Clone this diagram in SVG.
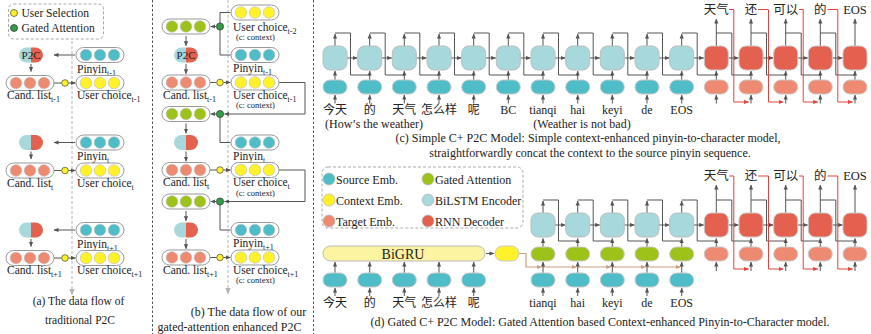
<svg xmlns="http://www.w3.org/2000/svg" width="871" height="334" viewBox="0 0 871 334" font-family="'Liberation Serif','DejaVu Serif','Noto Sans CJK SC',serif">
<defs>
<style>
text{font-family:"Liberation Serif","DejaVu Serif","Noto Sans CJK SC",serif;fill:#222}
.lb{font-size:11.5px}
.sb{font-size:8px}
.cx{font-size:8.5px}
.capa{font-size:11.5px;text-anchor:middle}
.cap{font-size:12px;text-anchor:middle}
.tok{font-size:12px;text-anchor:middle}
.wd{font-size:12.5px;text-anchor:middle}
.lgt{font-size:12px}
.ln{stroke:#555;stroke-width:1;fill:none}
.a{marker-end:url(#ah)}
.rd{stroke:#e2423c;stroke-width:1;fill:none;marker-end:url(#ahr)}
.tn{stroke:#c9a07f;stroke-width:1.2;fill:none;marker-end:url(#aht)}
.box{fill:#fff;stroke:#999;stroke-width:1}
.ct{fill:#4fbdc7;stroke:#bbb;stroke-width:.6}
.cy{fill:#fff22a;stroke:#bbb;stroke-width:.6}
.cs{fill:#ef8a72;stroke:#bbb;stroke-width:.6}
.cg{fill:#9dc31b;stroke:#bbb;stroke-width:.6}
.enc{fill:#a6d8dc;stroke:#bdbdbd;stroke-width:1}
.dec{fill:#e4604f;stroke:#c8c8c8;stroke-width:1}
.src{fill:#4fbdc7;stroke:#c8c8c8;stroke-width:1}
.tgt{fill:#ef8a72;stroke:#c8c8c8;stroke-width:1}
.gat{fill:#9dc31b;stroke:#c8c8c8;stroke-width:1}
.ylw{fill:#fff22a;stroke:#c8c8c8;stroke-width:1}
.gru{fill:#fdf4a2;stroke:#bbb;stroke-width:1}
.pl{fill:#a6d8dc}
.pr{fill:#e4604f}
.ud{fill:#fff22a;stroke:#444;stroke-width:.7}
.gd{fill:#2f9e47;stroke:#333;stroke-width:.7}
.div{stroke:#555;stroke-width:1;stroke-dasharray:2.5 2;fill:none}
.fl{stroke:#b5b5b5;stroke-width:1;stroke-dasharray:3 2;fill:none;marker-end:url(#ahg)}
.lg{fill:none;stroke:#aaa;stroke-width:1;stroke-dasharray:3 2}
.ld{stroke:#bbb;stroke-width:.8}
</style>
<marker id="ah" viewBox="0 0 6 6" refX="5.5" refY="3" markerWidth="5" markerHeight="5" orient="auto" markerUnits="userSpaceOnUse"><path d="M0,0.5L6,3L0,5.5z" fill="#555"/></marker>
<marker id="ahr" viewBox="0 0 6 6" refX="5.5" refY="3" markerWidth="5" markerHeight="5" orient="auto" markerUnits="userSpaceOnUse"><path d="M0,0.5L6,3L0,5.5z" fill="#e2423c"/></marker>
<marker id="aht" viewBox="0 0 6 6" refX="5.5" refY="3" markerWidth="5" markerHeight="5" orient="auto" markerUnits="userSpaceOnUse"><path d="M0,0.5L6,3L0,5.5z" fill="#c9a07f"/></marker>
<marker id="ahg" viewBox="0 0 6 6" refX="5.5" refY="3" markerWidth="7" markerHeight="7" orient="auto" markerUnits="userSpaceOnUse"><path d="M0,0.5L6,3L0,5.5z" fill="#b5b5b5"/></marker>
<g id="p2c"><path class="pl" d="M0 -7.5H-4.5A7.5 7.5 0 0 0 -4.5 7.5H0Z"/><path class="pr" d="M0 -7.5H4.5A7.5 7.5 0 0 1 4.5 7.5H0Z"/></g>
<g id="bt"><rect class="box" x="-24" y="-7.5" width="48" height="15" rx="7.5"/><circle class="ct" cx="-14" cy="0" r="5.8"/><circle class="ct" cx="0" cy="0" r="5.8"/><circle class="ct" cx="14" cy="0" r="5.8"/></g>
<g id="by"><rect class="box" x="-24" y="-7.5" width="48" height="15" rx="7.5"/><circle class="cy" cx="-14" cy="0" r="5.8"/><circle class="cy" cx="0" cy="0" r="5.8"/><circle class="cy" cx="14" cy="0" r="5.8"/></g>
<g id="bs"><rect class="box" x="-24" y="-7.5" width="48" height="15" rx="7.5"/><circle class="cs" cx="-14" cy="0" r="5.8"/><circle class="cs" cx="0" cy="0" r="5.8"/><circle class="cs" cx="14" cy="0" r="5.8"/></g>
<g id="bg"><rect class="box" x="-24" y="-7.5" width="48" height="15" rx="7.5"/><circle class="cg" cx="-14" cy="0" r="5.8"/><circle class="cg" cx="0" cy="0" r="5.8"/><circle class="cg" cx="14" cy="0" r="5.8"/></g>
</defs>

<g id="connectors">
<path class="div" d="M152.5 0V334M313.5 0V334"/>
<path class="fl" d="M72 41V295"/>
<path class="fl" d="M228 0V294"/>
<path class="ln a" d="M75 55H54"/><path class="ln a" d="M31 64V71.5"/><path class="ln" d="M54 83H61.5"/><path class="ln a" d="M68.5 83H75.5"/>
<path class="ln a" d="M75 142.5H54"/><path class="ln a" d="M31 151.5V159"/><path class="ln" d="M54 170.5H61.5"/><path class="ln a" d="M68.5 170.5H75.5"/>
<path class="ln a" d="M75 230H54"/><path class="ln a" d="M31 239V246.5"/><path class="ln" d="M54 258H61.5"/><path class="ln a" d="M68.5 258H75.5"/>
<path class="ln a" d="M216 26.5H210.8"/><path class="ln" d="M220 26.5V12.5H230.5"/><path class="ln" d="M220 26.5V55H230.5"/>
<path class="ln a" d="M186 36V45.8"/><path class="ln a" d="M186 64V73.8"/><path class="ln" d="M210 82.5H216.5"/><path class="ln a" d="M223.5 82.5H230.5"/>
<path class="ln a" d="M279 82.5H305V114H224.5"/><path class="ln a" d="M216 114H210.8"/><path class="ln" d="M220 114V142.5H230.5"/>
<path class="ln a" d="M186 123.5V133.3"/><path class="ln a" d="M186 151.5V161.3"/><path class="ln" d="M210 170H216.5"/><path class="ln a" d="M223.5 170H230.5"/>
<path class="ln a" d="M279 170H305V201.5H224.5"/><path class="ln a" d="M216 201.5H210.8"/><path class="ln" d="M220 201.5V230H230.5"/>
<path class="ln a" d="M186 211V220.8"/><path class="ln a" d="M186 239V248.8"/><path class="ln" d="M210 257.5H216.5"/><path class="ln a" d="M223.5 257.5H230.5"/>
<path class="ln a" d="M347 58H357.2"/><path class="ln a" d="M381.7 58H391.8"/><path class="ln a" d="M416.3 58H426.5"/><path class="ln a" d="M451 58H461.2"/><path class="ln a" d="M485.7 58H495.8"/><path class="ln a" d="M520.3 58H530.5"/><path class="ln a" d="M555 58H565.2"/><path class="ln a" d="M589.7 58H599.8"/><path class="ln a" d="M624.3 58H634.5"/><path class="ln a" d="M659 58H669.2"/><path class="ln a" d="M693.7 58H703.8"/><path class="ln a" d="M728.3 58H738.5"/><path class="ln a" d="M763 58H773.2"/><path class="ln a" d="M797.7 58H807.8"/><path class="ln a" d="M832.3 58H842.5"/>
<path class="ln" d="M335 33H350.5V75H369.7M369.7 33H385.2V75H404.3M404.3 33H419.8V75H439M439 33H454.5V75H473.7M473.7 33H489.2V75H508.3M508.3 33H523.8V75H543M543 33H558.5V75H577.7M577.7 33H593.2V75H612.3M612.3 33H627.8V75H647M647 33H662.5V75H681.7M681.7 33H697.2V75H716.3M716.3 33H731.8V75H751M751 33H766.5V75H785.7M785.7 33H801.2V75H820.3M820.3 33H835.8V75H855"/>
<path class="ln a" d="M335 46V34"/><path class="ln a" d="M369.7 46V34"/><path class="ln a" d="M404.3 46V34"/><path class="ln a" d="M439 46V34"/><path class="ln a" d="M473.7 46V34"/><path class="ln a" d="M508.3 46V34"/><path class="ln a" d="M543 46V34"/><path class="ln a" d="M577.7 46V34"/><path class="ln a" d="M612.3 46V34"/><path class="ln a" d="M647 46V34"/><path class="ln a" d="M681.7 46V34"/>
<path class="ln a" d="M716.3 46V19"/><path class="ln a" d="M751 46V19"/><path class="ln a" d="M785.7 46V19"/><path class="ln a" d="M820.3 46V19"/><path class="ln a" d="M855 46V19"/>
<path class="ln a" d="M335 80V71"/><path class="ln a" d="M369.7 80V71"/><path class="ln a" d="M404.3 80V71"/><path class="ln a" d="M439 80V71"/><path class="ln a" d="M473.7 80V71"/><path class="ln a" d="M508.3 80V71"/><path class="ln a" d="M543 80V71"/><path class="ln a" d="M577.7 80V71"/><path class="ln a" d="M612.3 80V71"/><path class="ln a" d="M647 80V71"/><path class="ln a" d="M681.7 80V71"/><path class="ln a" d="M716.3 80V71"/><path class="ln a" d="M751 80V71"/><path class="ln a" d="M785.7 80V71"/><path class="ln a" d="M820.3 80V71"/><path class="ln a" d="M855 80V71"/>
<path class="ln a" d="M335 103.5V95"/><path class="ln a" d="M369.7 103.5V95"/><path class="ln a" d="M404.3 103.5V95"/><path class="ln a" d="M439 103.5V95"/><path class="ln a" d="M473.7 103.5V95"/><path class="ln a" d="M508.3 103.5V95"/><path class="ln a" d="M543 103.5V95"/><path class="ln a" d="M577.7 103.5V95"/><path class="ln a" d="M612.3 103.5V95"/><path class="ln a" d="M647 103.5V95"/><path class="ln a" d="M681.7 103.5V95"/><path class="ln a" d="M716.3 103.5V95"/><path class="ln a" d="M751 103.5V95"/><path class="ln a" d="M785.7 103.5V95"/><path class="ln a" d="M820.3 103.5V95"/><path class="ln a" d="M855 103.5V95"/>
<path class="rd" d="M729 9.5H733.8V102H748.5"/><path class="rd" d="M758 9.5H768.5V102H783.2"/><path class="rd" d="M799 9.5H803.2V102H817.8"/><path class="rd" d="M827.5 9.5H837.8V102H852.5"/>
<path class="ln a" d="M555 225H565.2"/><path class="ln a" d="M589.7 225H599.8"/><path class="ln a" d="M624.3 225H634.5"/><path class="ln a" d="M659 225H669.2"/><path class="ln a" d="M693.7 225H703.8"/><path class="ln a" d="M728.3 225H738.5"/><path class="ln a" d="M763 225H773.2"/><path class="ln a" d="M797.7 225H807.8"/><path class="ln a" d="M832.3 225H842.5"/>
<path class="ln" d="M543 200H558.5V241H577.7M577.7 200H593.2V241H612.3M612.3 200H627.8V241H647M647 200H662.5V241H681.7M681.7 200H697.2V241H716.3M716.3 200H731.8V241H751M751 200H766.5V241H785.7M785.7 200H801.2V241H820.3M820.3 200H835.8V241H855"/>
<path class="ln a" d="M543 213V201"/><path class="ln a" d="M577.7 213V201"/><path class="ln a" d="M612.3 213V201"/><path class="ln a" d="M647 213V201"/><path class="ln a" d="M681.7 213V201"/>
<path class="ln a" d="M716.3 213V185"/><path class="ln a" d="M751 213V185"/><path class="ln a" d="M785.7 213V185"/><path class="ln a" d="M820.3 213V185"/><path class="ln a" d="M855 213V185"/>
<path class="ln a" d="M543 247V238.5"/><path class="ln a" d="M577.7 247V238.5"/><path class="ln a" d="M612.3 247V238.5"/><path class="ln a" d="M647 247V238.5"/><path class="ln a" d="M681.7 247V238.5"/><path class="ln a" d="M716.3 247V238.5"/><path class="ln a" d="M751 247V238.5"/><path class="ln a" d="M785.7 247V238.5"/><path class="ln a" d="M820.3 247V238.5"/><path class="ln a" d="M855 247V238.5"/>
<path class="tn" d="M519 253.5H526V267H541.5"/><path class="tn" d="M543 267H576.2"/><path class="tn" d="M577.7 267H610.8"/><path class="tn" d="M612.3 267H645.5"/><path class="tn" d="M647 267H680.2"/>
<path class="ln a" d="M543 273V262"/><path class="ln a" d="M577.7 273V262"/><path class="ln a" d="M612.3 273V262"/><path class="ln a" d="M647 273V262"/><path class="ln a" d="M681.7 273V262"/>
<path class="ln a" d="M716.3 271V262"/><path class="ln a" d="M751 271V262"/><path class="ln a" d="M785.7 271V262"/><path class="ln a" d="M820.3 271V262"/><path class="ln a" d="M855 271V262"/>
<path class="rd" d="M729 176H733.8V269H748.5"/><path class="rd" d="M758 176H768.5V269H783.2"/><path class="rd" d="M799 176H803.2V269H817.8"/><path class="rd" d="M827.5 176H837.8V269H852.5"/>
<path class="ln a" d="M335 273V262"/><path class="ln a" d="M369.7 273V262"/><path class="ln a" d="M404.3 273V262"/><path class="ln a" d="M439 273V262"/><path class="ln a" d="M473.7 273V262"/>
<path class="ln a" d="M486 253.5H494"/>
<path class="ln a" d="M335 296V288"/><path class="ln a" d="M369.7 296V288"/><path class="ln a" d="M404.3 296V288"/><path class="ln a" d="M439 296V288"/><path class="ln a" d="M473.7 296V288"/><path class="ln a" d="M543 296V288"/><path class="ln a" d="M577.7 296V288"/><path class="ln a" d="M612.3 296V288"/><path class="ln a" d="M647 296V288"/><path class="ln a" d="M681.7 296V288"/>
</g>

<g id="a-legend">
<rect class="lg" x="8.5" y="4" width="95" height="35" rx="5"/>
<circle class="ud" cx="14" cy="13" r="3.5"/><text class="lb" x="21.5" y="17">User Selection</text>
<circle class="gd" cx="14" cy="28" r="3.5"/><text class="lb" x="21.5" y="32">Gated Attention</text>
</g>
<g id="a-p2c-1"><use href="#p2c" x="31" y="55"/><text x="31" y="59" style="font-size:11px;text-anchor:middle">P2C</text></g>
<g id="a-pinyin-1"><use href="#bt" x="100" y="55"/><text class="lb" x="77" y="72.5">Pinyin<tspan class="sb" dy="3">t-1</tspan></text></g>
<g id="a-cand-1"><use href="#bs" x="30" y="83"/><text class="lb" x="7" y="99">Cand. list<tspan class="sb" dy="3">t-1</tspan></text></g>
<g id="a-sel-1"><circle class="ud" cx="65" cy="83" r="3.3"/></g>
<g id="a-user-1"><use href="#by" x="100" y="83"/><text class="lb" x="77" y="99">User  choice<tspan class="sb" dy="3">t-1</tspan></text></g>
<g id="a-p2c-2"><use href="#p2c" x="31" y="142.5"/></g>
<g id="a-pinyin-2"><use href="#bt" x="100" y="142.5"/><text class="lb" x="77" y="160">Pinyin<tspan class="sb" dy="3">t</tspan></text></g>
<g id="a-cand-2"><use href="#bs" x="30" y="170.5"/><text class="lb" x="7" y="186.5">Cand. list<tspan class="sb" dy="3">t</tspan></text></g>
<g id="a-sel-2"><circle class="ud" cx="65" cy="170.5" r="3.3"/></g>
<g id="a-user-2"><use href="#by" x="100" y="170.5"/><text class="lb" x="77" y="186.5">User  choice<tspan class="sb" dy="3">t</tspan></text></g>
<g id="a-p2c-3"><use href="#p2c" x="31" y="230"/></g>
<g id="a-pinyin-3"><use href="#bt" x="100" y="230"/><text class="lb" x="77" y="247.5">Pinyin<tspan class="sb" dy="3">t+1</tspan></text></g>
<g id="a-cand-3"><use href="#bs" x="30" y="258"/><text class="lb" x="7" y="274">Cand. list<tspan class="sb" dy="3">t+1</tspan></text></g>
<g id="a-sel-3"><circle class="ud" cx="65" cy="258" r="3.3"/></g>
<g id="a-user-3"><use href="#by" x="100" y="258"/><text class="lb" x="77" y="274">User  choice<tspan class="sb" dy="3">t+1</tspan></text></g>
<g id="a-caption"><text class="capa" x="78.5" y="305">(a) The data flow of</text><text class="capa" x="80" y="324">traditional P2C</text></g>

<g id="b-user-0"><use href="#by" x="255" y="12.5"/><text class="lb" x="233" y="30.5">User  choice<tspan class="sb" dy="3">t-2</tspan></text><text class="cx" x="236" y="40">(c: context)</text></g>
<g id="b-gated-1"><use href="#bg" x="186" y="26.5"/></g>
<g id="b-gdot-1"><circle class="gd" cx="220" cy="26.5" r="3.6"/></g>
<g id="b-p2c-1"><use href="#p2c" x="186" y="55"/><text x="186" y="59" style="font-size:11px;text-anchor:middle">P2C</text></g>
<g id="b-pinyin-1"><use href="#bt" x="255" y="55"/><text class="lb" x="233" y="72">Pinyin<tspan class="sb" dy="3">t-1</tspan></text></g>
<g id="b-cand-1"><use href="#bs" x="186" y="82.5"/><text class="lb" x="163" y="98.5">Cand. list<tspan class="sb" dy="3">t-1</tspan></text></g>
<g id="b-sel-1"><circle class="ud" cx="220" cy="82.5" r="3.3"/></g>
<g id="b-user-1"><use href="#by" x="255" y="82.5"/><text class="lb" x="233" y="98.5">User  choice<tspan class="sb" dy="3">t-1</tspan></text><text class="cx" x="236" y="108">(c: context)</text></g>
<g id="b-gated-2"><use href="#bg" x="186" y="114"/></g>
<g id="b-gdot-2"><circle class="gd" cx="220" cy="114" r="3.6"/></g>
<g id="b-p2c-2"><use href="#p2c" x="186" y="142.5"/></g>
<g id="b-pinyin-2"><use href="#bt" x="255" y="142.5"/><text class="lb" x="233" y="159.5">Pinyin<tspan class="sb" dy="3">t</tspan></text></g>
<g id="b-cand-2"><use href="#bs" x="186" y="170"/><text class="lb" x="163" y="186">Cand. list<tspan class="sb" dy="3">t</tspan></text></g>
<g id="b-sel-2"><circle class="ud" cx="220" cy="170" r="3.3"/></g>
<g id="b-user-2"><use href="#by" x="255" y="170"/><text class="lb" x="233" y="186">User  choice<tspan class="sb" dy="3">t</tspan></text><text class="cx" x="236" y="195.5">(c: context)</text></g>
<g id="b-gated-3"><use href="#bg" x="186" y="201.5"/></g>
<g id="b-gdot-3"><circle class="gd" cx="220" cy="201.5" r="3.6"/></g>
<g id="b-p2c-3"><use href="#p2c" x="186" y="230"/></g>
<g id="b-pinyin-3"><use href="#bt" x="255" y="230"/><text class="lb" x="233" y="247">Pinyin<tspan class="sb" dy="3">t+1</tspan></text></g>
<g id="b-cand-3"><use href="#bs" x="186" y="257.5"/><text class="lb" x="163" y="273.5">Cand. list<tspan class="sb" dy="3">t+1</tspan></text></g>
<g id="b-sel-3"><circle class="ud" cx="220" cy="257.5" r="3.3"/></g>
<g id="b-user-3"><use href="#by" x="255" y="257.5"/><text class="lb" x="233" y="273.5">User  choice<tspan class="sb" dy="3">t+1</tspan></text><text class="cx" x="236" y="283">(c: context)</text></g>
<g id="b-caption"><text class="cap" x="248.5" y="315.5">(b) The data flow of  our</text><text class="cap" x="229.5" y="330.5">gated-attention enhanced P2C</text></g>

<g id="c-enc-0"><rect class="enc" x="323" y="46" width="24" height="24" rx="7"/><rect class="src" x="323" y="80" width="24" height="14" rx="7"/><text class="tok" x="335" y="114">今天</text></g>
<g id="c-enc-1"><rect class="enc" x="357.7" y="46" width="24" height="24" rx="7"/><rect class="src" x="357.7" y="80" width="24" height="14" rx="7"/><text class="tok" x="369.7" y="114">的</text></g>
<g id="c-enc-2"><rect class="enc" x="392.3" y="46" width="24" height="24" rx="7"/><rect class="src" x="392.3" y="80" width="24" height="14" rx="7"/><text class="tok" x="404.3" y="114">天气</text></g>
<g id="c-enc-3"><rect class="enc" x="427" y="46" width="24" height="24" rx="7"/><rect class="src" x="427" y="80" width="24" height="14" rx="7"/><text class="tok" x="439" y="114">怎么样</text></g>
<g id="c-enc-4"><rect class="enc" x="461.7" y="46" width="24" height="24" rx="7"/><rect class="src" x="461.7" y="80" width="24" height="14" rx="7"/><text class="tok" x="473.7" y="114">呢</text></g>
<g id="c-enc-5"><rect class="enc" x="496.3" y="46" width="24" height="24" rx="7"/><rect class="src" x="496.3" y="80" width="24" height="14" rx="7"/><text class="tok" x="508.3" y="114">BC</text></g>
<g id="c-enc-6"><rect class="enc" x="531" y="46" width="24" height="24" rx="7"/><rect class="src" x="531" y="80" width="24" height="14" rx="7"/><text class="tok" x="543" y="114">tianqi</text></g>
<g id="c-enc-7"><rect class="enc" x="565.7" y="46" width="24" height="24" rx="7"/><rect class="src" x="565.7" y="80" width="24" height="14" rx="7"/><text class="tok" x="577.7" y="114">hai</text></g>
<g id="c-enc-8"><rect class="enc" x="600.3" y="46" width="24" height="24" rx="7"/><rect class="src" x="600.3" y="80" width="24" height="14" rx="7"/><text class="tok" x="612.3" y="114">keyi</text></g>
<g id="c-enc-9"><rect class="enc" x="635" y="46" width="24" height="24" rx="7"/><rect class="src" x="635" y="80" width="24" height="14" rx="7"/><text class="tok" x="647" y="114">de</text></g>
<g id="c-enc-10"><rect class="enc" x="669.7" y="46" width="24" height="24" rx="7"/><rect class="src" x="669.7" y="80" width="24" height="14" rx="7"/><text class="tok" x="681.7" y="114">EOS</text></g>
<g id="c-dec-1"><rect class="dec" x="704.3" y="46" width="24" height="24" rx="7"/><rect class="tgt" x="704.3" y="80" width="24" height="14" rx="7"/><text class="wd" x="716.3" y="14">天气</text></g>
<g id="c-dec-2"><rect class="dec" x="739" y="46" width="24" height="24" rx="7"/><rect class="tgt" x="739" y="80" width="24" height="14" rx="7"/><text class="wd" x="751" y="14">还</text></g>
<g id="c-dec-3"><rect class="dec" x="773.7" y="46" width="24" height="24" rx="7"/><rect class="tgt" x="773.7" y="80" width="24" height="14" rx="7"/><text class="wd" x="785.7" y="14">可以</text></g>
<g id="c-dec-4"><rect class="dec" x="808.3" y="46" width="24" height="24" rx="7"/><rect class="tgt" x="808.3" y="80" width="24" height="14" rx="7"/><text class="wd" x="820.3" y="14">的</text></g>
<g id="c-dec-5"><rect class="dec" x="843" y="46" width="24" height="24" rx="7"/><rect class="tgt" x="843" y="80" width="24" height="14" rx="7"/><text class="wd" x="855" y="14">EOS</text></g>
<g id="c-notes"><text class="tok" x="374" y="128">(How’s the weather)</text><text class="tok" x="582" y="128">(Weather is not bad)</text></g>
<g id="c-caption"><text class="cap" x="588" y="141.5">(c) Simple C+ P2C Model: Simple context-enhanced pinyin-to-character model,</text><text class="cap" x="590" y="156.5">straightforwardly concat the context to the source pinyin sequence.</text></g>

<g id="d-legend">
<rect class="lg" x="322" y="167" width="201" height="61" rx="6"/>
<circle class="ld" fill="#4fbdc7" cx="329" cy="179" r="6"/><text class="lgt" x="336" y="183.5">Source Emb.</text>
<circle class="ld" fill="#fff22a" cx="329" cy="200" r="6"/><text class="lgt" x="336" y="204.5">Context Emb.</text>
<circle class="ld" fill="#ef8a72" cx="329" cy="221" r="6"/><text class="lgt" x="336" y="225.5">Target Emb.</text>
<circle class="ld" fill="#9dc31b" cx="428" cy="179" r="6"/><text class="lgt" x="435" y="183.5">Gated Attention</text>
<circle class="ld" fill="#a6d8dc" cx="428" cy="200" r="6"/><text class="lgt" x="435" y="204.5">BiLSTM Encoder</text>
<circle class="ld" fill="#e4604f" cx="428" cy="221" r="6"/><text class="lgt" x="435" y="225.5">RNN Decoder</text>
</g>
<g id="d-bigru"><rect class="gru" x="323" y="246" width="162" height="15" rx="7.5"/><text x="403" y="258.5" style="font-size:14px;text-anchor:middle">BiGRU</text></g>
<g id="d-context"><rect class="ylw" x="495" y="246" width="24" height="15" rx="7.5"/></g>
<g id="d-ctx-0"><rect class="src" x="323" y="273" width="24" height="14" rx="7"/><text class="tok" x="335" y="307">今天</text></g>
<g id="d-ctx-1"><rect class="src" x="357.7" y="273" width="24" height="14" rx="7"/><text class="tok" x="369.7" y="307">的</text></g>
<g id="d-ctx-2"><rect class="src" x="392.3" y="273" width="24" height="14" rx="7"/><text class="tok" x="404.3" y="307">天气</text></g>
<g id="d-ctx-3"><rect class="src" x="427" y="273" width="24" height="14" rx="7"/><text class="tok" x="439" y="307">怎么样</text></g>
<g id="d-ctx-4"><rect class="src" x="461.7" y="273" width="24" height="14" rx="7"/><text class="tok" x="473.7" y="307">呢</text></g>
<g id="d-enc-1"><rect class="enc" x="531" y="213" width="24" height="24" rx="7"/><rect class="gat" x="531" y="247" width="24" height="14" rx="7"/><rect class="src" x="531" y="273" width="24" height="14" rx="7"/><text class="tok" x="543" y="307">tianqi</text></g>
<g id="d-enc-2"><rect class="enc" x="565.7" y="213" width="24" height="24" rx="7"/><rect class="gat" x="565.7" y="247" width="24" height="14" rx="7"/><rect class="src" x="565.7" y="273" width="24" height="14" rx="7"/><text class="tok" x="577.7" y="307">hai</text></g>
<g id="d-enc-3"><rect class="enc" x="600.3" y="213" width="24" height="24" rx="7"/><rect class="gat" x="600.3" y="247" width="24" height="14" rx="7"/><rect class="src" x="600.3" y="273" width="24" height="14" rx="7"/><text class="tok" x="612.3" y="307">keyi</text></g>
<g id="d-enc-4"><rect class="enc" x="635" y="213" width="24" height="24" rx="7"/><rect class="gat" x="635" y="247" width="24" height="14" rx="7"/><rect class="src" x="635" y="273" width="24" height="14" rx="7"/><text class="tok" x="647" y="307">de</text></g>
<g id="d-enc-5"><rect class="enc" x="669.7" y="213" width="24" height="24" rx="7"/><rect class="gat" x="669.7" y="247" width="24" height="14" rx="7"/><rect class="src" x="669.7" y="273" width="24" height="14" rx="7"/><text class="tok" x="681.7" y="307">EOS</text></g>
<g id="d-dec-1"><rect class="dec" x="704.3" y="213" width="24" height="24" rx="7"/><rect class="tgt" x="704.3" y="247" width="24" height="14" rx="7"/><text class="wd" x="716.3" y="180">天气</text></g>
<g id="d-dec-2"><rect class="dec" x="739" y="213" width="24" height="24" rx="7"/><rect class="tgt" x="739" y="247" width="24" height="14" rx="7"/><text class="wd" x="751" y="180">还</text></g>
<g id="d-dec-3"><rect class="dec" x="773.7" y="213" width="24" height="24" rx="7"/><rect class="tgt" x="773.7" y="247" width="24" height="14" rx="7"/><text class="wd" x="785.7" y="180">可以</text></g>
<g id="d-dec-4"><rect class="dec" x="808.3" y="213" width="24" height="24" rx="7"/><rect class="tgt" x="808.3" y="247" width="24" height="14" rx="7"/><text class="wd" x="820.3" y="180">的</text></g>
<g id="d-dec-5"><rect class="dec" x="843" y="213" width="24" height="24" rx="7"/><rect class="tgt" x="843" y="247" width="24" height="14" rx="7"/><text class="wd" x="855" y="180">EOS</text></g>
<g id="d-caption"><text class="cap" x="600" y="326">(d) Gated C+ P2C Model: Gated Attention based Context-enhanced Pinyin-to-Character model.</text></g>
</svg>
